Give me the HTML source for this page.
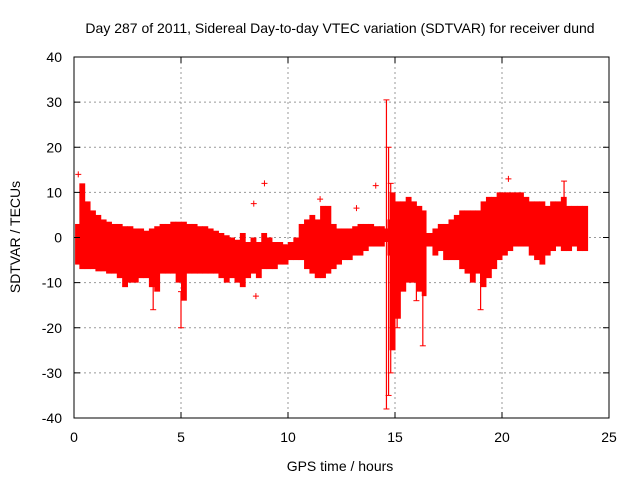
<!DOCTYPE html>
<html><head><meta charset="utf-8"><style>
body{margin:0;background:#fff}
svg{display:block;font-family:"Liberation Sans",sans-serif}
</style></head><body>
<svg id="chart" width="640" height="480">
<text x="340" y="33" font-size="14" text-anchor="middle">Day 287 of 2011, Sidereal Day-to-day VTEC variation (SDTVAR) for receiver dund</text>
<text x="340" y="471" font-size="14" text-anchor="middle">GPS time / hours</text>
<text transform="translate(20,237) rotate(-90)" font-size="14" text-anchor="middle">SDTVAR / TECUs</text>
<g id="grid"></g><g id="data"></g><g id="axes"></g>
</svg>
<script>
const times=[0.05,0.25,0.5,0.75,1,1.25,1.5,1.75,2,2.25,2.5,2.75,3,3.25,3.5,3.75,4,4.25,4.5,4.75,5,5.25,5.5,5.75,6,6.25,6.5,6.75,7,7.25,7.5,7.75,8,8.25,8.5,8.75,9,9.25,9.5,9.75,10,10.25,10.5,10.75,11,11.25,11.5,11.75,12,12.25,12.5,12.75,13,13.25,13.5,13.75,14,14.25,14.5,14.65,14.75,15,15.25,15.5,15.75,16,16.25,16.45,16.75,17,17.25,17.5,17.75,18,18.25,18.5,18.75,19,19.25,19.5,19.75,20,20.25,20.5,20.75,21,21.25,21.5,21.75,22,22.25,22.5,22.75,23,23.25,23.5,23.75,24];
const upper=[3,12,8,6,5,4,3.5,3,3,2.5,2.5,2,2,1.5,2,2.5,3,3,3.5,3.5,3.5,3,3,2.5,2.5,2,1.5,1,0.5,0,-0.5,1,-1,0,-1,1,0,-1,-1,-1.5,-1,0,3,4,5,4,7,7,3,2,2,2,2.5,3,3,3,2.5,2.5,2,4,10,8,8,9,8,7,6,1,2,3,3,4,5,6,6,6,6,8,9,9,10,10,10,10,10,9,8,8,8,7,8,8,9,7,7,7,7];
const lower=[-6,-7,-7,-7,-7.5,-7.5,-8,-8,-9,-11,-10,-10,-9,-9,-11,-12,-8,-8,-8,-10,-14,-8,-8,-8,-8,-8,-8,-9,-10,-9,-10,-11,-9,-8,-9,-7,-7,-7,-6,-6,-5,-5,-5,-7,-8,-9,-9,-8,-7,-6,-5,-5,-4,-4,-3,-2,-2,-2,-1,-4,-25,-18,-12,-10,-10,-12,-13,-2,-4,-3,-5,-5,-5,-7,-8,-10,-8,-11,-9,-7,-5,-4,-3,-2,-2,-2,-4,-5,-6,-4,-3,-2,-3,-3,-2,-3,-3,-3];
const spikeT=[14.6,14.7,14.8,15.1,16.3,5.0,3.7,16.0,19.0,22.9];
const spikeHi=[30.5,20,12,6,-2,-12,-10,-5,-6,12.5];
const spikeLo=[-38,-35,-30,-20,-24,-20,-16,-14,-16,6];
const outT=[8.9,8.4,8.5,20.3,14.1,13.2,0.2,11.5];
const outV=[12,7.5,-13,13,11.5,6.5,14,8.5];
const xTicks=[0,5,10,15,20,25];
const yTicks=[-40,-30,-20,-10,0,10,20,30,40];
const NS="http://www.w3.org/2000/svg";
const L=74,R=609,T=57,B=418;
const X=v=>L+(v-0)/25*(R-L);
const Y=v=>B-(v+40)/80*(B-T);
function mk(tag,parent,at){const e=document.createElementNS(NS,tag);for(const k in at)e.setAttribute(k,at[k]);document.getElementById(parent).appendChild(e);return e;}
xTicks.forEach(t=>{
 if(t>0&&t<25){const g=mk('line','grid',{x1:X(t),x2:X(t),y1:T,y2:B,stroke:'#999','stroke-dasharray':'2,3','stroke-width':1});
 
 }
 const l=mk('text','axes',{x:X(t),y:B+24,'font-size':14,'text-anchor':'middle'});l.textContent=t;
 
 
 mk('line','axes',{x1:X(t),x2:X(t),y1:B,y2:B-6,stroke:'#000'});mk('line','axes',{x1:X(t),x2:X(t),y1:T,y2:T+6,stroke:'#000'});
});
yTicks.forEach(t=>{
 if(t>-40&&t<40){const g=mk('line','grid',{x1:L,x2:R,y1:Y(t),y2:Y(t),stroke:'#999','stroke-dasharray':'2,3','stroke-width':1});
 
 }
 const l=mk('text','axes',{x:L-12,y:Y(t)+5,'font-size':14,'text-anchor':'end'});l.textContent=t;
 
 
 mk('line','axes',{x1:L,x2:L+6,y1:Y(t),y2:Y(t),stroke:'#000'});mk('line','axes',{x1:R,x2:R-6,y1:Y(t),y2:Y(t),stroke:'#000'});
});
const fr=mk('rect','axes',{x:L,y:T,width:R-L,height:B-T,fill:'none',stroke:'#000'});


for(let i=0;i<times.length-1;i++){
 const r=mk('rect','data',{x:X(times[i]),y:Y(upper[i]),width:X(times[i+1])-X(times[i])+0.5,height:Y(lower[i])-Y(upper[i]),fill:'#f00'});
 
 
}
spikeT.forEach((t,i)=>{
 const s=mk('line','data',{x1:X(t),x2:X(t),y1:Y(spikeHi[i]),y2:Y(spikeLo[i]),stroke:'#f00','stroke-width':1.2});
 
 
 [spikeHi[i],spikeLo[i]].forEach(v=>mk('line','data',{x1:X(t)-3,x2:X(t)+3,y1:Y(v),y2:Y(v),stroke:'#f00'}));
});
outT.forEach((t,i)=>{
 const p=mk('path','data',{d:`M${X(t)-3},${Y(outV[i])}h6M${X(t)},${Y(outV[i])-3}v6`,stroke:'#f00','stroke-width':1});
 
 
});
</script>
</body></html>
